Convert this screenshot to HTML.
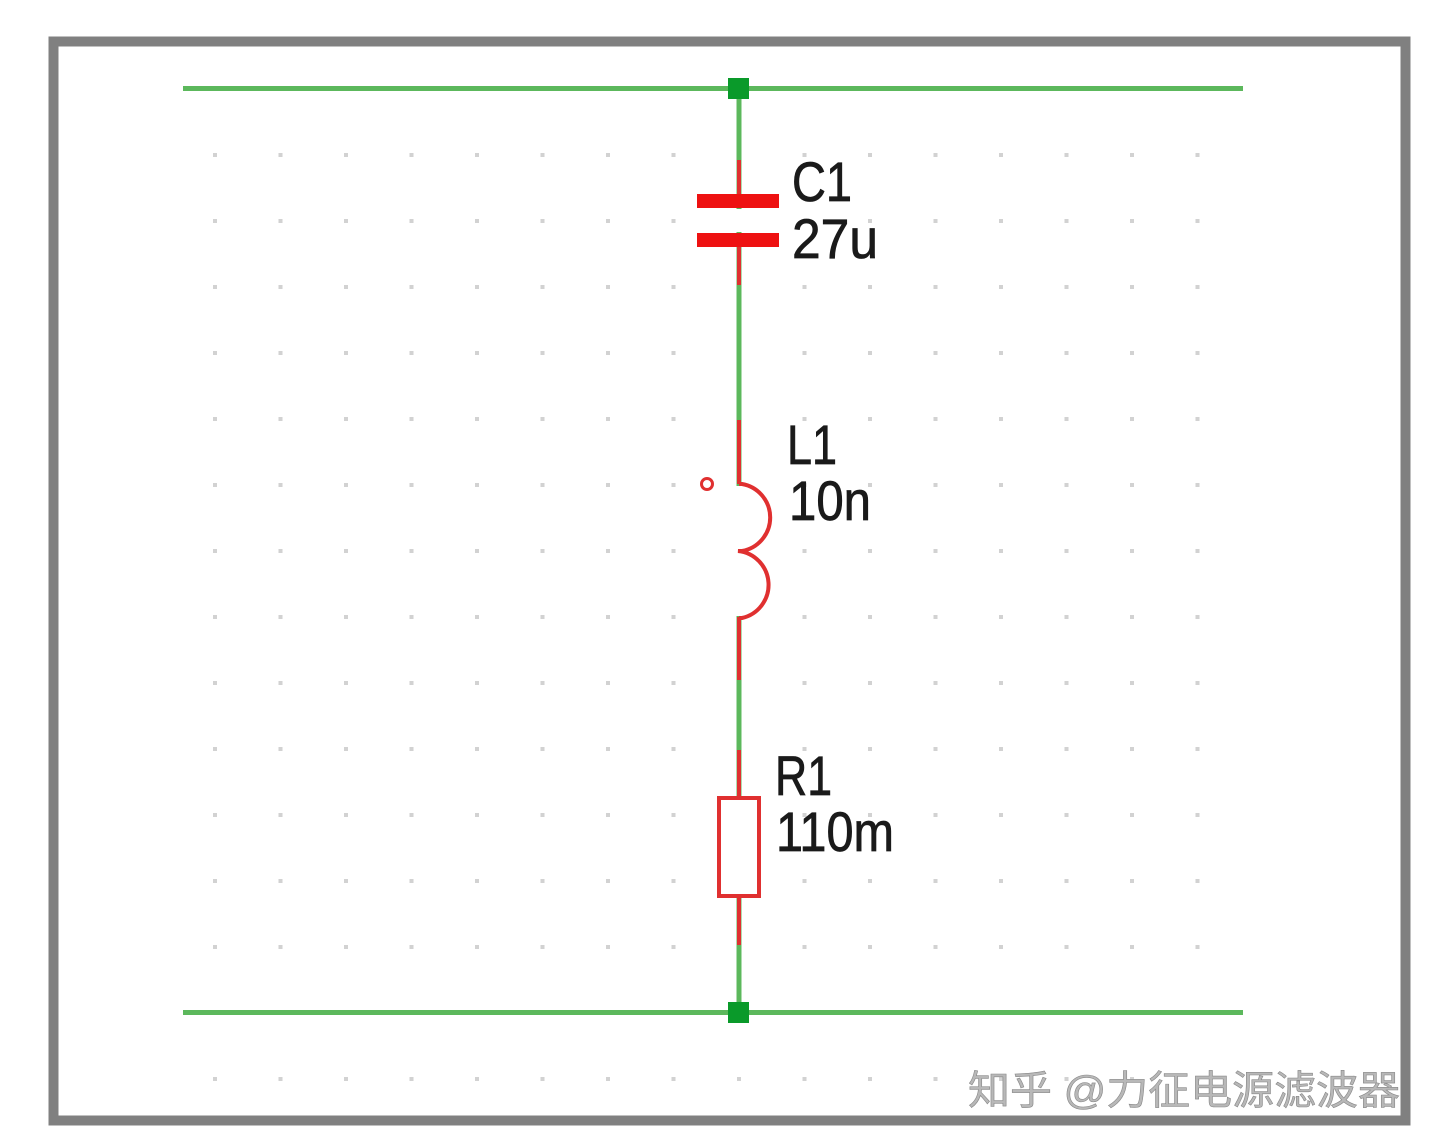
<!DOCTYPE html>
<html><head><meta charset="utf-8"><style>
html,body{margin:0;padding:0;background:#fff;width:1436px;height:1148px;overflow:hidden}
</style></head><body>
<svg width="1436" height="1148" viewBox="0 0 1436 1148" xmlns="http://www.w3.org/2000/svg">
<defs>
<pattern id="dp" patternUnits="userSpaceOnUse" x="213" y="153" width="65.5" height="66">
<rect x="0" y="0" width="4" height="4" fill="#d2d2d2"/>
</pattern>
</defs>
<rect x="0" y="0" width="1436" height="1148" fill="#fff"/>
<rect x="53.5" y="41.5" width="1352" height="1079" fill="#fff" stroke="#808080" stroke-width="10"/>
<rect x="210" y="150" width="995" height="935" fill="url(#dp)"/>
<!-- wires -->
<g stroke="#5cb85c" stroke-width="5" fill="none">
<line x1="183" y1="88.5" x2="1243" y2="88.5"/>
<line x1="183" y1="1012.5" x2="1243" y2="1012.5"/>
<line x1="739" y1="88" x2="739" y2="1012"/>
</g>
<!-- masks -->
<rect x="735" y="209" width="8" height="23" fill="#fff"/>
<rect x="734" y="486" width="10" height="130" fill="#fff"/>
<rect x="720" y="799" width="38" height="96" fill="#fff"/>
<!-- red component leads -->
<g stroke="#e03030" stroke-width="4" fill="none">
<line x1="739" y1="160" x2="739" y2="200"/>
<line x1="739" y1="240" x2="739" y2="285"/>
<line x1="739" y1="420" x2="739" y2="484"/>
<line x1="739" y1="617" x2="739" y2="680"/>
<line x1="739" y1="750" x2="739" y2="797"/>
<line x1="739" y1="897" x2="739" y2="945"/>
<path d="M739 484 L742 484 A34 34 0 0 1 742 551 L738 551 A34 34 0 0 1 742 618 L739 618"/>
<circle cx="707" cy="484" r="5.5" stroke-width="3"/>
</g>
<rect x="719" y="798" width="40" height="98" fill="none" stroke="#e03030" stroke-width="4"/>
<!-- cap plates -->
<rect x="697" y="194" width="82" height="14" fill="#ee1111"/>
<rect x="697" y="233" width="82" height="14" fill="#ee1111"/>
<!-- junctions -->
<rect x="728" y="78" width="21" height="21" fill="#0a9a2a"/>
<rect x="728" y="1002" width="21" height="21" fill="#0a9a2a"/>
<!-- labels -->
<g font-family="Liberation Sans, sans-serif" font-size="56" fill="#1a1a1a" stroke="#1a1a1a" stroke-width="0.8">
<text x="792" y="201" textLength="60" lengthAdjust="spacingAndGlyphs">C1</text>
<text x="792" y="258" textLength="86" lengthAdjust="spacingAndGlyphs">27u</text>
<text x="787" y="464" textLength="50" lengthAdjust="spacingAndGlyphs">L1</text>
<text x="789" y="520" textLength="82" lengthAdjust="spacingAndGlyphs">10n</text>
<text x="775" y="795" textLength="57" lengthAdjust="spacingAndGlyphs">R1</text>
<text x="776" y="851" textLength="118" lengthAdjust="spacingAndGlyphs">110m</text>
</g>
<text x="968" y="1104" font-family="Liberation Sans, Noto Sans CJK SC, sans-serif" font-size="40" fill="#b8b8b8" stroke="#888" stroke-width="0.6" textLength="432" lengthAdjust="spacingAndGlyphs">知乎 @力征电源滤波器</text>
</svg>
</body></html>
